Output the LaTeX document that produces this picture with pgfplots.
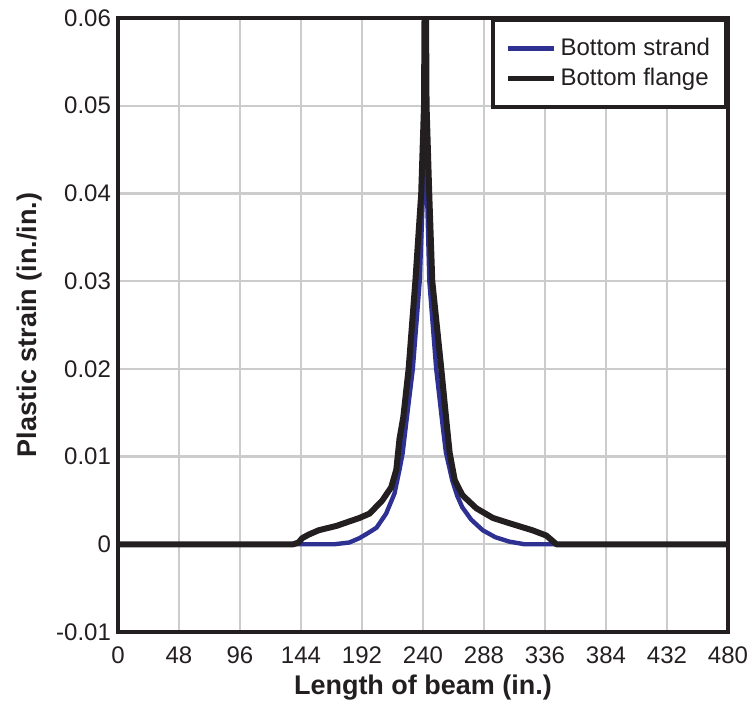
\documentclass[border=0pt]{standalone}
\usepackage{pgfplots}
\pgfplotsset{compat=1.18}
\usepackage{fontspec}
\setmainfont{Liberation Sans}
\definecolor{sblue}{HTML}{2E3192}
\definecolor{sblack}{HTML}{231F20}
\begin{document}
\begin{tikzpicture}
\path[use as bounding box] (-59pt,-36pt) rectangle (316.5pt,316pt);
\begin{axis}[
  at={(0,0)}, anchor=south west,
  scale only axis, width=305pt, height=307pt,
  xmin=0, xmax=480, ymin=-0.01, ymax=0.06,
  xtick={0,48,96,144,192,240,288,336,384,432,480},
  xticklabels={0,48,96,144,192,240,288,336,384,432,480},
  ytick={-0.01,0,0.01,0.02,0.03,0.04,0.05,0.06},
  yticklabels={-0.01,0,0.01,0.02,0.03,0.04,0.05,0.06},
  grid=major, grid style={line width=1.2pt, color=black!20},
  major tick length=0pt,
  axis line style={line width=2.3pt, draw=sblack},
  tick label style={font=\fontsize{12}{14}\selectfont, text=sblack},
  xticklabel style={yshift=-4pt},
  xlabel={\bfseries Length of beam (in.)},
  ylabel={\bfseries Plastic strain (in./in.)},
  label style={font=\fontsize{13.5}{16}\selectfont, text=sblack},
  xlabel style={at={(axis description cs:0.5,-0.0912)}, anchor=center},
  ylabel style={at={(axis description cs:-0.1443,0.5)}, anchor=center, rotate=0},
  legend style={at={(1,1)}, anchor=north east, draw=sblack, line width=2pt,
    fill=white, font=\fontsize{12}{14}\selectfont, text=sblack,
    inner xsep=6pt, inner ysep=7pt, row sep=1pt,
    /tikz/every even column/.append style={column sep=5pt}},
  legend cell align=left,
  legend image code/.code={\draw[#1, line width=2.6pt] (0pt,0pt) -- (23pt,0pt);},
]
\addplot[sblue, line width=2.2pt, line join=round] coordinates {
(0,0) (170,0) (182,0.0002) (190,0.0007) (197,0.0013) (203.5,0.0019) (211,0.0035)
(217.6,0.0058) (221.5,0.0085) (224,0.0104) (227,0.0141) (232,0.02) (237.4,0.03)
(240,0.04) (241.5,0.043) (243.2,0.04) (245,0.03) (250.4,0.02) (255.5,0.0135)
(258,0.0105) (263,0.0073) (267,0.0055) (271,0.0042) (278,0.0028) (287,0.0016)
(297,0.0008) (308,0.0003) (320,0) (480,0)
};
\addlegendentry{Bottom strand}
\addplot[sblack, line width=3pt, line join=round] coordinates {
(0,0) (138,0) (142,0.0002) (145,0.0007) (150,0.0011) (158,0.0016) (172,0.0021)
(190,0.003) (198,0.0035) (208,0.005) (215,0.0065) (219,0.0085) (221.5,0.012)
(224.5,0.0145) (228.7,0.02) (234,0.03) (238.6,0.04) (240.8,0.05) (241.8,0.075)
(242.8,0.05) (244.9,0.04) (247.3,0.03) (254.4,0.02) (258.4,0.0141) (261,0.0104)
(265,0.0073) (271,0.0056) (282,0.0041) (295,0.003) (308,0.0024) (326,0.0016)
(337,0.001) (341,0.0005) (345,0) (480,0)
};
\addlegendentry{Bottom flange}
\end{axis}
\end{tikzpicture}
\end{document}
